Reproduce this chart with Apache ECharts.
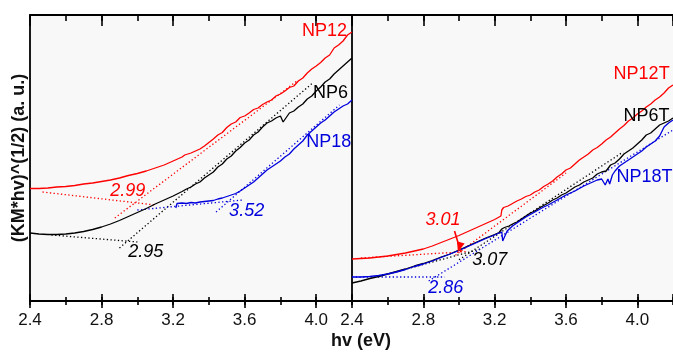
<!DOCTYPE html>
<html>
<head>
<meta charset="utf-8">
<script src="https://cdn.jsdelivr.net/npm/echarts@6/dist/echarts.min.js"></script>
<style>
  html, body { margin: 0; padding: 0; background: #ffffff; }
  #chart { width: 673px; height: 356px; }
</style>
</head>
<body>
<div id="chart"></div>
<script>
// Tauc-style plots of (KM*hv)^(1/2) against photon energy, two panels.
// Each curve is a list of [hv (eV), (KM*hv)^(1/2) (a. u.)] pairs.

const xTickLabels = [2.4, 2.8, 3.2, 3.6, 4.0];

// ---- left panel: as-prepared samples ----
const np12 = [[2.40,1.125],[2.45,1.125],[2.50,1.13],[2.55,1.14],[2.60,1.145],[2.65,1.155],[2.70,1.17],[2.75,1.18],[2.80,1.195],[2.85,1.21],[2.90,1.23],[2.95,1.255],[3.00,1.275],[3.05,1.30],[3.10,1.33],[3.15,1.36],[3.20,1.40],[3.225,1.42],[3.25,1.44],[3.265,1.46],[3.275,1.45],[3.30,1.48],[3.325,1.50],[3.35,1.52],[3.375,1.55],[3.40,1.585],[3.425,1.62],[3.45,1.66],[3.475,1.685],[3.50,1.735],[3.525,1.77],[3.55,1.79],[3.575,1.835],[3.60,1.85],[3.625,1.88],[3.65,1.915],[3.675,1.93],[3.70,1.965],[3.725,1.99],[3.75,2.01],[3.775,2.05],[3.80,2.07],[3.825,2.10],[3.85,2.135],[3.875,2.15],[3.90,2.20],[3.925,2.23],[3.95,2.28],[3.975,2.32],[4.00,2.35],[4.025,2.385],[4.05,2.43],[4.075,2.46],[4.10,2.53],[4.125,2.56],[4.15,2.60],[4.175,2.66],[4.20,2.69]];
const np6 = [[2.40,0.68],[2.45,0.67],[2.50,0.665],[2.55,0.665],[2.60,0.67],[2.65,0.68],[2.70,0.695],[2.75,0.715],[2.80,0.74],[2.85,0.77],[2.90,0.805],[2.95,0.845],[3.00,0.885],[3.05,0.925],[3.10,0.97],[3.15,1.01],[3.20,1.05],[3.25,1.095],[3.275,1.12],[3.30,1.14],[3.325,1.17],[3.35,1.19],[3.375,1.23],[3.40,1.26],[3.425,1.29],[3.45,1.34],[3.475,1.37],[3.50,1.42],[3.525,1.45],[3.55,1.50],[3.575,1.535],[3.60,1.58],[3.625,1.61],[3.65,1.66],[3.675,1.69],[3.70,1.74],[3.725,1.78],[3.75,1.80],[3.775,1.83],[3.80,1.85],[3.815,1.79],[3.825,1.81],[3.85,1.88],[3.875,1.90],[3.90,1.94],[3.925,1.97],[3.95,2.02],[3.975,2.05],[4.00,2.10],[4.025,2.14],[4.05,2.19],[4.075,2.22],[4.10,2.27],[4.125,2.31],[4.15,2.35],[4.175,2.39],[4.20,2.43]];
const np18 = [[3.215,0.93],[3.222,0.975],[3.25,0.98],[3.275,0.975],[3.30,0.985],[3.325,0.98],[3.35,0.99],[3.375,0.995],[3.40,1.00],[3.425,1.005],[3.45,1.02],[3.475,1.03],[3.50,1.045],[3.525,1.06],[3.55,1.075],[3.575,1.10],[3.60,1.13],[3.625,1.16],[3.65,1.19],[3.675,1.23],[3.70,1.27],[3.725,1.31],[3.75,1.34],[3.775,1.37],[3.80,1.40],[3.825,1.44],[3.85,1.47],[3.875,1.52],[3.90,1.56],[3.925,1.60],[3.95,1.66],[3.975,1.70],[4.00,1.74],[4.025,1.78],[4.05,1.81],[4.075,1.85],[4.10,1.89],[4.125,1.92],[4.15,1.95],[4.175,1.97],[4.20,2.01]];

// linear fits (absorption edge) and baselines, left panel
const np12Fit = [[2.874,0.83],[3.90,2.21]];
const np12Base = [[2.47,1.09],[3.10,0.96]];
const np6Fit = [[2.90,0.53],[3.98,2.18]];
const np6Base = [[2.52,0.66],[3.00,0.59]];
const np18Fit = [[3.44,0.89],[4.13,1.96]];
const np18Base = [[3.00,0.91],[3.59,1.01]];

// ---- right panel: treated samples ----
const np12T = [[2.40,0.42],[2.45,0.425],[2.50,0.43],[2.55,0.44],[2.60,0.45],[2.65,0.465],[2.70,0.48],[2.75,0.50],[2.80,0.52],[2.85,0.55],[2.90,0.585],[2.95,0.62],[3.00,0.655],[3.05,0.695],[3.10,0.735],[3.15,0.775],[3.20,0.815],[3.235,0.85],[3.24,0.91],[3.25,0.935],[3.275,0.95],[3.30,0.975],[3.325,1.00],[3.35,1.02],[3.375,1.045],[3.40,1.06],[3.425,1.09],[3.45,1.11],[3.475,1.145],[3.50,1.17],[3.525,1.20],[3.55,1.24],[3.575,1.27],[3.60,1.31],[3.625,1.33],[3.65,1.37],[3.675,1.41],[3.70,1.44],[3.725,1.47],[3.75,1.51],[3.775,1.535],[3.80,1.57],[3.825,1.61],[3.85,1.64],[3.875,1.68],[3.90,1.72],[3.925,1.755],[3.95,1.80],[3.975,1.83],[4.00,1.87],[4.025,1.90],[4.05,1.94],[4.075,1.97],[4.10,2.01],[4.125,2.04],[4.15,2.08],[4.175,2.13],[4.20,2.16]];
const np6T = [[2.40,0.18],[2.45,0.20],[2.50,0.225],[2.55,0.245],[2.60,0.27],[2.65,0.295],[2.70,0.32],[2.75,0.35],[2.80,0.375],[2.85,0.405],[2.90,0.44],[2.95,0.47],[3.00,0.51],[3.05,0.55],[3.10,0.59],[3.15,0.63],[3.20,0.665],[3.225,0.685],[3.24,0.72],[3.245,0.70],[3.255,0.735],[3.265,0.72],[3.28,0.75],[3.30,0.77],[3.325,0.79],[3.35,0.82],[3.375,0.85],[3.40,0.88],[3.425,0.90],[3.45,0.93],[3.475,0.955],[3.50,0.98],[3.525,1.01],[3.55,1.03],[3.575,1.06],[3.60,1.08],[3.625,1.11],[3.65,1.14],[3.675,1.16],[3.70,1.19],[3.725,1.21],[3.75,1.23],[3.775,1.27],[3.80,1.29],[3.825,1.30],[3.85,1.36],[3.875,1.38],[3.90,1.42],[3.925,1.47],[3.95,1.50],[3.975,1.53],[4.00,1.57],[4.025,1.61],[4.05,1.66],[4.075,1.68],[4.10,1.72],[4.125,1.76],[4.15,1.78],[4.175,1.80],[4.20,1.83]];
const np18T = [[2.40,0.24],[2.45,0.24],[2.50,0.245],[2.55,0.255],[2.60,0.27],[2.65,0.29],[2.70,0.315],[2.75,0.345],[2.80,0.37],[2.85,0.40],[2.90,0.435],[2.95,0.47],[3.00,0.505],[3.05,0.545],[3.10,0.585],[3.15,0.625],[3.20,0.66],[3.225,0.68],[3.24,0.69],[3.245,0.60],[3.255,0.62],[3.27,0.70],[3.30,0.75],[3.325,0.78],[3.35,0.81],[3.375,0.84],[3.40,0.865],[3.425,0.89],[3.45,0.915],[3.475,0.94],[3.50,0.96],[3.525,0.985],[3.55,1.01],[3.575,1.035],[3.60,1.06],[3.625,1.08],[3.65,1.10],[3.675,1.125],[3.70,1.15],[3.725,1.17],[3.75,1.19],[3.775,1.21],[3.80,1.22],[3.82,1.16],[3.835,1.22],[3.845,1.17],[3.86,1.26],[3.875,1.30],[3.90,1.35],[3.925,1.38],[3.95,1.41],[3.975,1.44],[4.00,1.47],[4.025,1.50],[4.05,1.54],[4.075,1.57],[4.10,1.60],[4.125,1.65],[4.15,1.74],[4.175,1.78],[4.20,1.81]];

// linear fits and baselines, right panel
const np12TFit = [[2.98,0.457],[3.60,1.28]];
const np12TBase = [[2.45,0.43],[3.05,0.495]];
const np6TFit = [[3.00,0.413],[3.92,1.49]];
const np6TBase = [[2.55,0.245],[3.12,0.52]];
const np18TFit = [[2.83,0.20],[4.20,1.71]];
const np18TBase = [[2.40,0.24],[2.92,0.24]];

// arrow from the 3.01 label down to the NP12T intersection
const np12TArrow = [[2.975,0.70],[3.01,0.49]];

// sample names and band-gap annotations: [text, hv, value]
const leftNames = [['NP12',4.046,2.70],['NP6',4.08,2.08],['NP18',4.07,1.59]];
const rightNames = [['NP12T',4.024,2.27],['NP6T',4.052,1.85],['NP18T',4.04,1.24]];
const leftGaps = [['2.99',2.947,1.10],['2.95',3.047,0.49],['3.52',3.611,0.90]];
const rightGaps = [['3.01',2.91,0.81],['3.07',3.173,0.41],['2.86',2.926,0.13]];

const RED = '#ff0000', BLACK = '#000000', BLUE = '#0000dd';
const FONT = '"Liberation Sans", Arial, Helvetica, sans-serif';
const TEXT = '#111111';
const X_MIN = 2.4, X_MAX = 4.2, Y_MIN = 0, Y_MAX = 2.86;

const panels = [{ left: 30, width: 322 }, { left: 352, width: 321 }];
const grids = [], xAxis = [], yAxis = [], series = [];

function tickAxis(gridIndex, position, interval, inside, length, withLine, withLabels) {
  xAxis.push({
    gridIndex, type: 'value', position, min: X_MIN, max: X_MAX, interval,
    axisLine: { show: withLine, onZero: false, lineStyle: { color: '#000', width: 1.8 } },
    axisTick: { show: true, inside, length, lineStyle: { color: '#000', width: 1.6 } },
    minorTick: { show: false },
    splitLine: { show: false },
    axisLabel: withLabels ? {
      show: true, margin: 11, fontSize: 17, fontFamily: FONT, color: TEXT,
      showMaxLabel: false,
      formatter: v => {
        const hit = xTickLabels.find(t => Math.abs(t - v) < 1e-6);
        return hit === undefined ? '' : hit.toFixed(1);
      }
    } : { show: false }
  });
  return xAxis.length - 1;
}

const mainAxes = [];
panels.forEach((p, pi) => {
  // four stacked layers per panel: main frame + extra tick layers (crossing and minor ticks)
  for (let layer = 0; layer < 4; layer++) {
    const gi = grids.length;
    grids.push({
      left: p.left, top: 15, width: p.width, height: 286,
      show: layer === 0, backgroundColor: '#f8f8f8', borderWidth: 0
    });
    yAxis.push(layer === 0 ? {
      gridIndex: gi, type: 'value', min: Y_MIN, max: Y_MAX,
      axisLine: { show: true, onZero: false, lineStyle: { color: '#000', width: 1.8 } },
      axisTick: { show: false }, axisLabel: { show: false }, splitLine: { show: false },
      name: pi === 0 ? '(KM*hv)^(1/2) (a. u.)' : '',
      nameLocation: 'middle', nameGap: 2,
      nameTextStyle: { fontSize: 18, fontWeight: 'bold', fontFamily: FONT, color: TEXT }
    } : { gridIndex: gi, type: 'value', min: Y_MIN, max: Y_MAX, show: false });
    if (layer === 0) {
      const xb = tickAxis(gi, 'bottom', 0.4, false, 7, true, true);
      tickAxis(gi, 'top', 0.4, true, 11, true, false);
      mainAxes.push({ x: xb, y: yAxis.length - 1 });
    } else if (layer === 1) {
      tickAxis(gi, 'bottom', 0.4, true, 7, false, false);
      tickAxis(gi, 'top', 0.2, true, 6, false, false);
    } else if (layer === 2) {
      tickAxis(gi, 'bottom', 0.2, false, 4, false, false);
    } else {
      tickAxis(gi, 'bottom', 0.2, true, 4, false, false);
    }
  }
});

function curve(panel, data, color, z) {
  series.push({
    type: 'line', data, xAxisIndex: mainAxes[panel].x, yAxisIndex: mainAxes[panel].y,
    symbol: 'none', silent: true, z: z || 3,
    lineStyle: { color, width: 1.3 }
  });
  return series[series.length - 1];
}
function dotted(panel, data, color) {
  series.push({
    type: 'line', data, xAxisIndex: mainAxes[panel].x, yAxisIndex: mainAxes[panel].y,
    symbol: 'none', silent: true, z: 2,
    lineStyle: { color, width: 1.3, type: [1.3, 2.4] }
  });
  return series[series.length - 1];
}
function labels(panel, items, colors, italic) {
  series.push({
    type: 'scatter', xAxisIndex: mainAxes[panel].x, yAxisIndex: mainAxes[panel].y,
    symbolSize: 0, silent: true, z: 10, clip: false,
    itemStyle: { opacity: 1 },
    data: items.map((it, i) => ({
      name: it[0], value: [it[1], it[2]],
      label: { color: colors[i] }
    })),
    label: {
      show: true, position: 'inside', formatter: '{b}', opacity: 1,
      fontSize: 18, fontFamily: FONT, fontStyle: italic ? 'italic' : 'normal'
    }
  });
}

// left panel
dotted(0, np12Base, RED); dotted(0, np12Fit, RED);
dotted(0, np6Base, BLACK); dotted(0, np6Fit, BLACK);
dotted(0, np18Base, BLUE); dotted(0, np18Fit, BLUE);
curve(0, np12, RED); curve(0, np6, BLACK); curve(0, np18, BLUE);
labels(0, leftNames, [RED, BLACK, BLUE], false);
labels(0, leftGaps, [RED, BLACK, BLUE], true);

// right panel
dotted(1, np12TBase, RED); dotted(1, np12TFit, RED);
dotted(1, np6TBase, BLACK); dotted(1, np6TFit, BLACK);
dotted(1, np18TBase, BLUE); dotted(1, np18TFit, BLUE);
curve(1, np12T, RED); curve(1, np6T, BLACK); curve(1, np18T, BLUE, 4);
labels(1, rightNames, [RED, BLACK, BLUE], false);
labels(1, rightGaps, [RED, BLACK, BLUE], true);

// arrow shaft
series.push({
  type: 'line', data: np12TArrow,
  xAxisIndex: mainAxes[1].x, yAxisIndex: mainAxes[1].y,
  symbol: 'none', silent: true, z: 8,
  lineStyle: { color: RED, width: 1.6 }
});
// arrow head: a triangle sitting just behind the tip, turned along the shaft
const chart = echarts.init(document.getElementById('chart'), null, { renderer: 'canvas' });
const baseOption = {
  animation: false,
  backgroundColor: '#ffffff',
  title: {
    text: 'hv (eV)', left: 356, top: 327, textAlign: 'center',
    textStyle: { fontSize: 18, fontWeight: 'bold', fontFamily: FONT, color: TEXT }
  },
  grid: grids, xAxis, yAxis, series
};
chart.setOption(baseOption);

const finder = { xAxisIndex: mainAxes[1].x, yAxisIndex: mainAxes[1].y };
const p0 = chart.convertToPixel(finder, np12TArrow[0]);
const p1 = chart.convertToPixel(finder, np12TArrow[1]);
const dx = p1[0] - p0[0], dy = p1[1] - p0[1];
const len = Math.hypot(dx, dy);
const headLen = 10;
const cx = p1[0] - dx / len * headLen / 2, cy = p1[1] - dy / len * headLen / 2;
// screen angle of the shaft; the triangle glyph points up by default
const rot = Math.atan2(-dx, dy) * 180 / Math.PI + 180;
series.push({
  type: 'scatter', xAxisIndex: mainAxes[1].x, yAxisIndex: mainAxes[1].y,
  silent: true, z: 9,
  symbol: 'triangle', symbolSize: [8, headLen], symbolRotate: rot,
  itemStyle: { color: RED, opacity: 1 },
  data: [chart.convertFromPixel(finder, [cx, cy])]
});
chart.setOption({ series });
</script>
</body>
</html>
